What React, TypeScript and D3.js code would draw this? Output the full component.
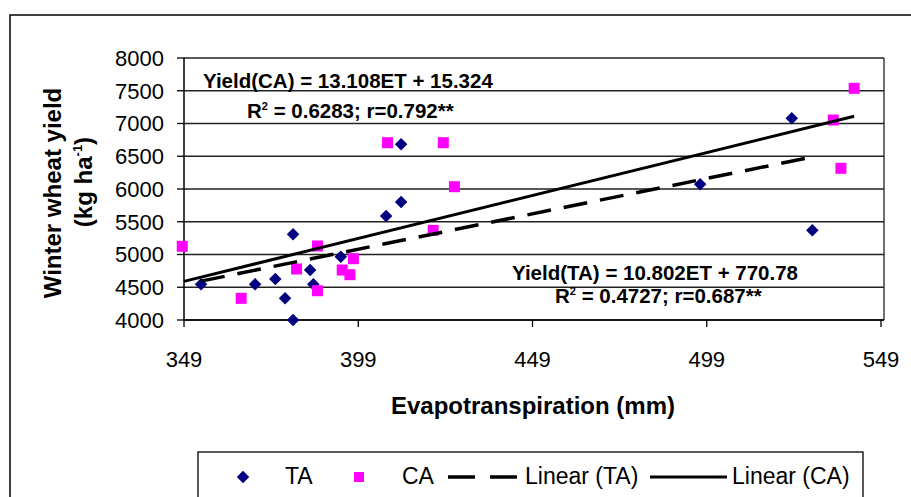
import React from 'react';
import * as d3 from 'd3';

// Evapotranspiration (mm) and yield (kg/ha)
const taET = [353.9, 369.4, 375.2, 378.0, 380.3, 380.3, 385.2, 386.1, 394.0, 407.0, 411.3, 411.3, 497.1, 523.4, 529.3];
const taYield = [4545, 4545, 4626, 4331, 5308, 4000, 4763, 4545, 4967, 5588, 6682, 5802, 6071, 7079, 5369];
const caET = [348.5, 365.4, 381.3, 387.3, 387.3, 394.4, 396.6, 397.6, 407.4, 423.4, 420.5, 426.6, 535.3, 537.5, 541.3];
const caYield = [5125, 4331, 4779, 5130, 4447, 4763, 4692, 4936, 6707, 6707, 5369, 6035, 7053, 6316, 7537];

const xTicks = [349, 399, 449, 499, 549];
const yTicks = [4000, 4500, 5000, 5500, 6000, 6500, 7000, 7500, 8000];

// fitted lines as printed on the chart
const taFit = { slope: 10.802, intercept: 770.78 };
const caFit = { slope: 13.108, intercept: 15.324 };

const W = 911;
const H = 497;
const left = 184;
const right = 881;
const top = 58;
const bottom = 320;
const plotRight = 884;

const font = 'Arial, "Liberation Sans", sans-serif';

const App = () => {
  const x = d3.scaleLinear().domain([349, 549]).range([left, right]);
  const y = d3.scaleLinear().domain([4000, 8000]).range([bottom, top]);

  const fitLine = (fit: { slope: number; intercept: number }, ets: number[]) => {
    const [lo, hi] = d3.extent(ets) as [number, number];
    const a = Math.max(lo, 349);
    return d3.line<number>().x(d => x(d)).y(d => y(fit.slope * d + fit.intercept))([a, hi]) || '';
  };

  const diamond = d3.symbol().type(d3.symbolDiamond2).size(100)();

  return (
    <svg width={W} height={H} style={{ position: 'absolute', left: 0, top: 0, background: '#fff' }} fontFamily={font}>
      {/* outer chart frame */}
      <path d={`M10,${H + 10} L10,15 L${W + 10},15`} fill="none" stroke="#000" strokeWidth={1.5} />

      {/* gridlines */}
      {yTicks.map(t => (
        <line key={t} x1={left} x2={plotRight} y1={y(t)} y2={y(t)} stroke="#222" strokeWidth={1.3} />
      ))}
      <line x1={plotRight} x2={plotRight} y1={top} y2={bottom} stroke="#222" strokeWidth={1.3} />

      {/* axes */}
      <line x1={left} x2={left} y1={top} y2={bottom} stroke="#000" strokeWidth={1.5} />
      <line x1={left} x2={plotRight} y1={bottom} y2={bottom} stroke="#000" strokeWidth={1.5} />
      {yTicks.map(t => (
        <g key={t}>
          <line x1={left - 7} x2={left} y1={y(t)} y2={y(t)} stroke="#000" strokeWidth={1.3} />
          <text x={164} y={y(t)} dy="0.36em" textAnchor="end" fontSize={22}>{t}</text>
        </g>
      ))}
      {xTicks.map(t => (
        <g key={t}>
          <line x1={x(t)} x2={x(t)} y1={bottom} y2={bottom + 7} stroke="#000" strokeWidth={1.3} />
          <text x={x(t)} y={367} textAnchor="middle" fontSize={22}>{t}</text>
        </g>
      ))}

      {/* axis titles */}
      <text x={533} y={414} textAnchor="middle" fontSize={24} fontWeight="bold">Evapotranspiration (mm)</text>
      <text transform="translate(61,193) rotate(-90)" textAnchor="middle" fontSize={24} fontWeight="bold">Winter wheat yield</text>
      <text transform="translate(92,182) rotate(-90)" textAnchor="middle" fontSize={24} fontWeight="bold">
        (kg ha<tspan fontSize={13} dy={-10}>-1</tspan><tspan dy={10}>)</tspan>
      </text>

      {/* points */}
      {taET.map((e, i) => (
        <path key={'ta' + i} d={diamond} transform={`translate(${x(e)},${y(taYield[i])})`} fill="#000080" />
      ))}
      {caET.map((e, i) => (
        <rect key={'ca' + i} x={x(e) - 5.5} y={y(caYield[i]) - 5.5} width={11} height={11} fill="#ff00ff" />
      ))}

      {/* trend lines */}
      <path d={fitLine(taFit, taET)} fill="none" stroke="#000" strokeWidth={3.5} strokeDasharray="24 13" />
      <path d={fitLine(caFit, caET)} fill="none" stroke="#000" strokeWidth={3} />

      {/* equations */}
      <text x={203} y={88} fontSize={20.5} fontWeight="bold">Yield(CA) = 13.108ET + 15.324</text>
      <text x={247} y={118} fontSize={20.5} fontWeight="bold">
        R<tspan fontSize={11} dy={-8}>2</tspan><tspan dy={8}> = 0.6283; r=0.792**</tspan>
      </text>
      <text x={512} y={280} fontSize={20.5} fontWeight="bold">Yield(TA) = 10.802ET + 770.78</text>
      <text x={555} y={303} fontSize={20.5} fontWeight="bold">
        R<tspan fontSize={11} dy={-8}>2</tspan><tspan dy={8}> = 0.4727; r=0.687**</tspan>
      </text>

      {/* legend */}
      <rect x={198} y={452} width={665} height={80} fill="#fff" stroke="#000" strokeWidth={1.3} />
      <path d={diamond} transform="translate(243,477)" fill="#000080" />
      <text x={285} y={484} fontSize={23}>TA</text>
      <rect x={354} y={472} width={10} height={10} fill="#ff00ff" />
      <text x={402} y={484} fontSize={23}>CA</text>
      <line x1={448} x2={517} y1={477} y2={477} stroke="#000" strokeWidth={3.5} strokeDasharray="27 15" />
      <text x={525} y={484} fontSize={23}>Linear (TA)</text>
      <line x1={650} x2={727} y1={477} y2={477} stroke="#000" strokeWidth={3} />
      <text x={732} y={484} fontSize={23}>Linear (CA)</text>
    </svg>
  );
};

export default App;
